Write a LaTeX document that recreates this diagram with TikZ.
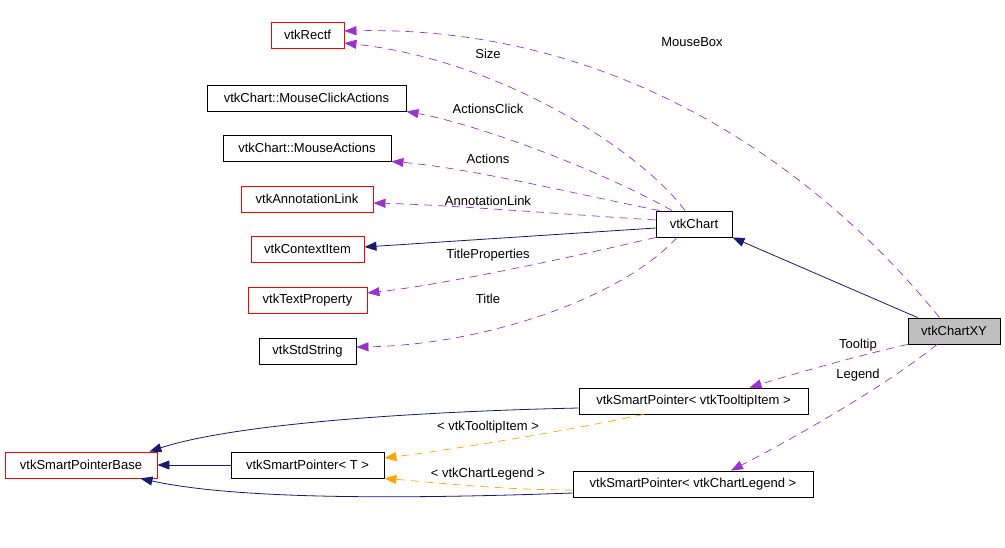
\documentclass[tikz,border=0pt]{standalone}
\usepackage{fontspec}
\setmainfont{Liberation Sans}
\usepackage{xcolor}
\definecolor{navy}{HTML}{191970}
\definecolor{orchid}{HTML}{9A32CD}
\definecolor{amber}{HTML}{FFA500}
\definecolor{redline}{HTML}{FF0000}
\definecolor{shade}{HTML}{BFBFBF}
\usetikzlibrary{arrows.meta}
\tikzset{
  >={Triangle[length=12pt,width=9pt]},
  cls/.style  ={draw=black,fill=white,line width=0.9pt,
                font=\fontsize{13}{15}\selectfont,minimum height=26pt,
                inner xsep=10pt,inner ysep=0pt,anchor=center},
  ext/.style  ={cls,draw=redline},
  focus/.style={cls,fill=shade},
  lbl/.style  ={font=\fontsize{13}{15}\selectfont,inner sep=1pt},
  base/.style ={->,draw=navy,line width=0.8pt},
  member/.style={->,draw=orchid,line width=0.7pt,dash pattern=on 8pt off 6pt},
  tmplarg/.style={->,draw=amber,line width=0.7pt,dash pattern=on 8pt off 6pt},
}

\begin{document}
\begin{tikzpicture}[x=1pt,y=-1pt]
\useasboundingbox (0,0) rectangle (1005,547);
% classes
\node[ext,minimum width=73pt]   (rectf)    at (307.5,35)  {vtkRectf};
\node[cls,minimum width=199pt]  (clickact) at (306.5,98)  {vtkChart::MouseClickActions};
\node[cls,minimum width=168pt]  (mouseact) at (307,148)   {vtkChart::MouseActions};
\node[ext,minimum width=132pt]  (annlink)  at (307,199)   {vtkAnnotationLink};
\node[ext,minimum width=113pt]  (ctxitem)  at (307.5,249) {vtkContextItem};
\node[ext,minimum width=119pt]  (textprop) at (307.5,300) {vtkTextProperty};
\node[cls,minimum width=97pt]   (stdstr)   at (307.5,351) {vtkStdString};
\node[cls,minimum width=76pt]   (chart)    at (694,224)   {vtkChart};
\node[focus,minimum width=92pt] (chartxy)  at (954,331)   {vtkChartXY};
\node[cls,minimum width=229pt]  (sptip)    at (693.5,401) {vtkSmartPointer< vtkTooltipItem >};
\node[cls,minimum width=240pt]  (splegend) at (693,484)   {vtkSmartPointer< vtkChartLegend >};
\node[ext,minimum width=152pt]  (spbase)   at (81,465)    {vtkSmartPointerBase};
\node[cls,minimum width=153pt]  (spt)      at (307.5,465) {vtkSmartPointer< T >};
% inheritance
\draw[base] ([xshift=10pt]chartxy.north west) -- (chart.south east);
\draw[base] ([yshift=-4pt]chart.west) -- ([yshift=2pt]ctxitem.east);
\draw[base] (spt.west) -- (spbase.east);
\draw[base] ([yshift=-7pt]sptip.west) .. controls (400,412) and (230,425) .. ([xshift=-8pt]spbase.north east);
\draw[base] ([yshift=-9pt]splegend.west) .. controls (380,500) and (230,498) .. ([xshift=-17pt]spbase.south east);
% members of vtkChart
\draw[member] ([xshift=32pt]chartxy.north west) .. controls (820,170) and (620,25) .. ([yshift=4pt]rectf.east);
\draw[member] ([xshift=-9pt]chart.north) .. controls (640,150) and (500,60) .. ([yshift=-8pt]rectf.east);
\draw[member] ([xshift=-22pt]chart.north) .. controls (600,170) and (480,125) .. (clickact.south east);
\draw[member] ([xshift=4pt]chart.north west) .. controls (580,195) and (470,168) .. (mouseact.south east);
\draw[member] ([yshift=4pt]chart.west) .. controls (560,214) and (450,205) .. ([yshift=-4pt]annlink.east);
\draw[member] (chart.south west) .. controls (560,260) and (440,285) .. ([yshift=7pt]textprop.east);
\draw[member] ([xshift=-17pt]chart.south) .. controls (620,300) and (480,345) .. ([yshift=4pt]stdstr.east);
% members of vtkChartXY
\draw[member] (chartxy.south west) .. controls (860,355) and (790,375) .. ([xshift=56pt]sptip.north);
\draw[member] ([xshift=-17pt]chartxy.south) .. controls (880,390) and (790,440) .. ([xshift=38pt]splegend.north);
% template arguments
\draw[tmplarg] ([xshift=-50pt]sptip.south) .. controls (560,432) and (450,450) .. ([yshift=7pt]spt.east);
\draw[tmplarg] ([yshift=-6pt]splegend.west) .. controls (500,490) and (430,482) .. (spt.south east);
% edge labels
\node[lbl] (lmousebox) at (692,42)  {MouseBox};
\node[lbl] (lsize)     at (488,54)  {Size};
\node[lbl] (lclick)    at (488,109) {ActionsClick};
\node[lbl] (lactions)  at (488,159) {Actions};
\node[lbl] (lannlink)  at (488,201) {AnnotationLink};
\node[lbl] (ltitprop)  at (488,255) {TitleProperties};
\node[lbl] (ltitle)    at (488,299) {Title};
\node[lbl] (ltooltip)  at (858,345) {Tooltip};
\node[lbl] (llegend)   at (858,375) {Legend};
\node[lbl] (ltiparg)   at (488,427) {< vtkTooltipItem >};
\node[lbl] (llegarg)   at (488,474) {< vtkChartLegend >};
\end{tikzpicture}
\end{document}
